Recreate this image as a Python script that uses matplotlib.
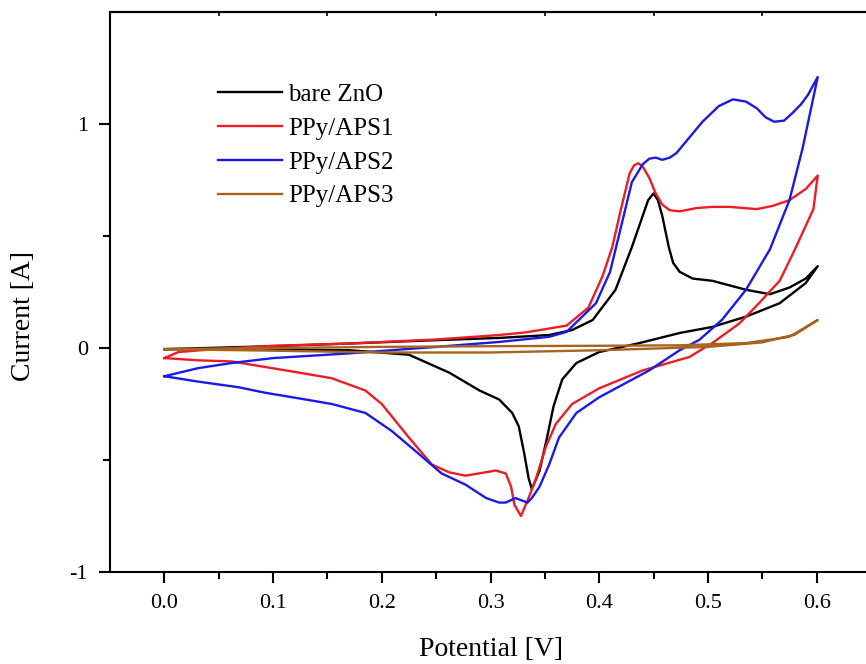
import matplotlib
matplotlib.use("Agg")
import matplotlib.pyplot as plt
from matplotlib.ticker import FixedLocator, FixedFormatter

plt.rcParams['font.family'] = ['Liberation Serif', 'DejaVu Serif']

# ---- data (potential V, current A) ----
zno_x = [0.0, 0.1, 0.17, 0.25, 0.308, 0.354, 0.375, 0.394, 0.415, 0.43, 0.44, 0.445, 0.45, 0.454, 0.458,
         0.464, 0.468, 0.474, 0.486, 0.504, 0.535, 0.557, 0.575, 0.59, 0.601,
         0.59, 0.566, 0.535, 0.504, 0.474, 0.437, 0.4, 0.379, 0.366, 0.358, 0.352, 0.345, 0.338,
         0.335, 0.331, 0.326, 0.32, 0.308, 0.29, 0.262, 0.225, 0.17, 0.1, 0.0]
zno_y = [-0.005, 0.008, 0.02, 0.035, 0.045, 0.058, 0.08, 0.125, 0.26, 0.45, 0.59, 0.66, 0.69, 0.66, 0.59,
         0.45, 0.38, 0.34, 0.31, 0.30, 0.26, 0.24, 0.27, 0.31, 0.365,
         0.29, 0.20, 0.14, 0.094, 0.067, 0.022, -0.018, -0.067, -0.14, -0.26, -0.40, -0.55, -0.63,
         -0.58, -0.47, -0.35, -0.29, -0.23, -0.19, -0.11, -0.03, -0.01, -0.007, -0.005]

aps1_x = [0.0, 0.013, 0.047, 0.1, 0.17, 0.25, 0.308, 0.333, 0.37, 0.39, 0.403, 0.412, 0.42, 0.428, 0.432,
          0.436, 0.44, 0.446, 0.452, 0.458, 0.465, 0.474, 0.49, 0.504, 0.52, 0.545, 0.56, 0.575, 0.59, 0.601,
          0.597, 0.58, 0.566, 0.547, 0.529, 0.504, 0.483, 0.44, 0.4, 0.375, 0.36, 0.351, 0.342, 0.335,
          0.328, 0.322, 0.319, 0.314, 0.305, 0.277, 0.262, 0.246, 0.225, 0.2, 0.185, 0.154, 0.124,
          0.062, 0.031, 0.0]
aps1_y = [-0.045, -0.018, -0.005, 0.01, 0.02, 0.038, 0.058, 0.07, 0.10, 0.18, 0.32, 0.45, 0.62, 0.78, 0.815,
          0.825, 0.81, 0.76, 0.69, 0.64, 0.615, 0.61, 0.625, 0.63, 0.63, 0.62, 0.635, 0.66, 0.71, 0.77,
          0.62, 0.44, 0.30, 0.20, 0.11, 0.022, -0.04, -0.10, -0.18, -0.25, -0.34, -0.44, -0.58, -0.67,
          -0.75, -0.70, -0.62, -0.56, -0.547, -0.57, -0.555, -0.52, -0.40, -0.25, -0.19, -0.135, -0.11,
          -0.06, -0.055, -0.045]

aps2_x = [0.0, 0.031, 0.062, 0.1, 0.17, 0.25, 0.308, 0.354, 0.37, 0.397, 0.41, 0.421, 0.43, 0.44, 0.446,
          0.452, 0.458, 0.465, 0.471, 0.483, 0.495, 0.51, 0.523, 0.535, 0.545, 0.553, 0.561, 0.57, 0.578,
          0.586, 0.592, 0.601,
          0.587, 0.575, 0.557, 0.535, 0.513, 0.492, 0.474, 0.446, 0.4, 0.379, 0.363, 0.354, 0.345,
          0.338, 0.334, 0.323, 0.314, 0.308, 0.296, 0.277, 0.255, 0.231, 0.209, 0.185, 0.154, 0.124,
          0.093, 0.068, 0.031, 0.0]
aps2_y = [-0.126, -0.09, -0.067, -0.045, -0.024, 0.005, 0.027, 0.05, 0.072, 0.20, 0.34, 0.56, 0.74, 0.82, 0.845,
          0.85, 0.84, 0.85, 0.87, 0.94, 1.01, 1.08, 1.11, 1.10, 1.07, 1.03, 1.01, 1.015, 1.05,
          1.09, 1.13, 1.21,
          0.89, 0.66, 0.44, 0.26, 0.126, 0.036, -0.01, -0.10, -0.22, -0.29, -0.40, -0.52, -0.62,
          -0.67, -0.69, -0.67, -0.69, -0.69, -0.67, -0.61, -0.56, -0.46, -0.37, -0.29, -0.25, -0.225,
          -0.20, -0.175, -0.15, -0.126]

aps3_x = [0.0, 0.1, 0.2, 0.3, 0.4, 0.474, 0.535, 0.575, 0.601,
          0.58, 0.55, 0.5, 0.4, 0.3, 0.2, 0.1, 0.0]
aps3_y = [-0.005, 0.0, 0.005, 0.008, 0.01, 0.012, 0.022, 0.05, 0.125,
          0.06, 0.025, 0.005, -0.01, -0.02, -0.02, -0.012, -0.005]

labels = ["bare ZnO", "PPy/APS1", "PPy/APS2", "PPy/APS3"]
colors = ["#000000", "#ee1c24", "#1a1ae6", "#a8641e"]

xticks = [0.0, 0.1, 0.2, 0.3, 0.4, 0.5, 0.6]
xticklabels = ["0.0", "0.1", "0.2", "0.3", "0.4", "0.5", "0.6"]
yticks = [-1, 0, 1]
yticklabels = ["-1", "0", "1"]

fig = plt.figure(figsize=(8.66, 6.64), dpi=100)
ax = fig.add_axes([110/866, 92/664, 761/866, 560/664])

series = [(zno_x, zno_y), (aps1_x, aps1_y), (aps2_x, aps2_y), (aps3_x, aps3_y)]
for (xs, ys), lab, c in zip(series, labels, colors):
    ax.plot(xs, ys, color=c, lw=1.7, label=lab, solid_joinstyle='round')

ax.set_xlim(-0.05, 0.65)
ax.set_ylim(-1, 1.5)

ax.xaxis.set_major_locator(FixedLocator(xticks))
ax.xaxis.set_major_formatter(FixedFormatter(xticklabels))
ax.xaxis.set_minor_locator(FixedLocator([0.05, 0.15, 0.25, 0.35, 0.45, 0.55]))
ax.yaxis.set_major_locator(FixedLocator(yticks))
ax.yaxis.set_major_formatter(FixedFormatter(yticklabels))
ax.yaxis.set_minor_locator(FixedLocator([-0.5, 0.5]))

for s in ax.spines.values():
    s.set_linewidth(1.5)
ax.tick_params(which='major', direction='out', length=8, width=1.5, labelsize=16, pad=8)
ax.tick_params(which='minor', direction='out', length=5, width=1.5)
ax.tick_params(axis='x', which='major', top=False)
ax.tick_params(axis='y', which='both', right=False)

# small inward minor ticks on the top spine
sec = ax.secondary_xaxis('top')
sec.xaxis.set_major_locator(FixedLocator([0.05, 0.15, 0.25, 0.35, 0.45, 0.55]))
sec.tick_params(direction='in', length=3, width=1.2, labeltop=False)
sec.spines['top'].set_linewidth(1.5)

ax.set_xlabel("Potential [V]", fontsize=20, labelpad=17)
ax.set_ylabel("Current [A]", fontsize=20)
ax.yaxis.set_label_coords(-0.097, 0.457)

ax.legend(loc='upper left', bbox_to_anchor=(0.142, 0.872), frameon=False, fontsize=18,
          handlelength=2.55, handletextpad=0.25, labelspacing=0.45, borderpad=0, borderaxespad=0)

fig.savefig("out.png", dpi=100)
